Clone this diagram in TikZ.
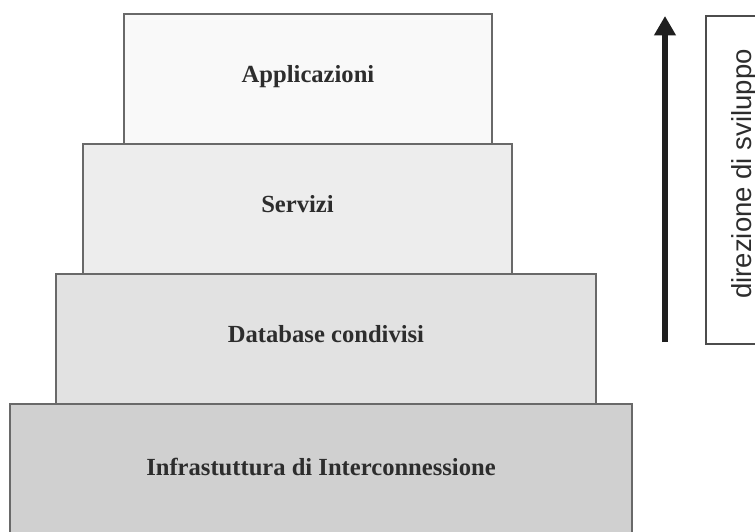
\documentclass[tikz,border=0pt]{standalone}
\usepackage{fontspec}
\setmainfont{Liberation Serif}
\setsansfont{Liberation Sans}
\usepackage{tikz}
\usetikzlibrary{positioning, arrows.meta}
\tikzstyle{pixelGrid} = [x = 0.03cm, y = -0.03cm]
\definecolor{edgeColor}{RGB}{105,105,105}
\definecolor{textColor}{RGB}{45,45,45}
\definecolor{layerOneFill}{RGB}{249,249,249}
\definecolor{layerTwoFill}{RGB}{237,237,237}
\definecolor{layerThreeFill}{RGB}{226,226,226}
\definecolor{layerFourFill}{RGB}{208,208,208}
\tikzstyle{layerStyle} = [draw=edgeColor, line width=1.2pt]
\tikzstyle{layerText} = [font=\bfseries\fontsize{21}{25}\selectfont, text=textColor, anchor=base]
\tikzstyle{arrowStyle} = [color=black!88, line width=5pt, -{Triangle[length=0.58cm, width=0.62cm]}]
\tikzstyle{sideBox} = [draw=black!70, line width=1.1pt]
\tikzstyle{sideText} = [font=\sffamily\fontsize{23.5}{28}\selectfont, text=textColor, rotate=90, anchor=base]
\newcommand{\layer}[7]{
  \filldraw [layerStyle, fill=#5] (#1,#2) rectangle (#3,#4);
  \node [layerText] (#6) at ({(#1+#3)/2},{(#2+#4)/2+3}) {#7};
}

\begin{document}
\begin{tikzpicture}[pixelGrid]
  \useasboundingbox (0,0) rectangle (755,531);
  % layers, from the bottom up
  \layer{10}{404}{632}{540}{layerFourFill}{infra}{Infrastuttura di Interconnessione}
  \layer{56}{274}{596}{404}{layerThreeFill}{database}{Database condivisi}
  \layer{83}{144}{512}{274}{layerTwoFill}{servizi}{Servizi}
  \layer{124}{14}{492}{144}{layerOneFill}{applicazioni}{Applicazioni}

  % development direction
  \coordinate (arrowFoot) at (665,342);
  \coordinate (arrowTip) at (665,16);
  \draw [arrowStyle] (arrowFoot) -- (arrowTip);
  \draw [sideBox] (706,16) rectangle (762,344);
  \node [sideText] (direzione) at (751,174) {direzione di sviluppo};
\end{tikzpicture}
\end{document}
